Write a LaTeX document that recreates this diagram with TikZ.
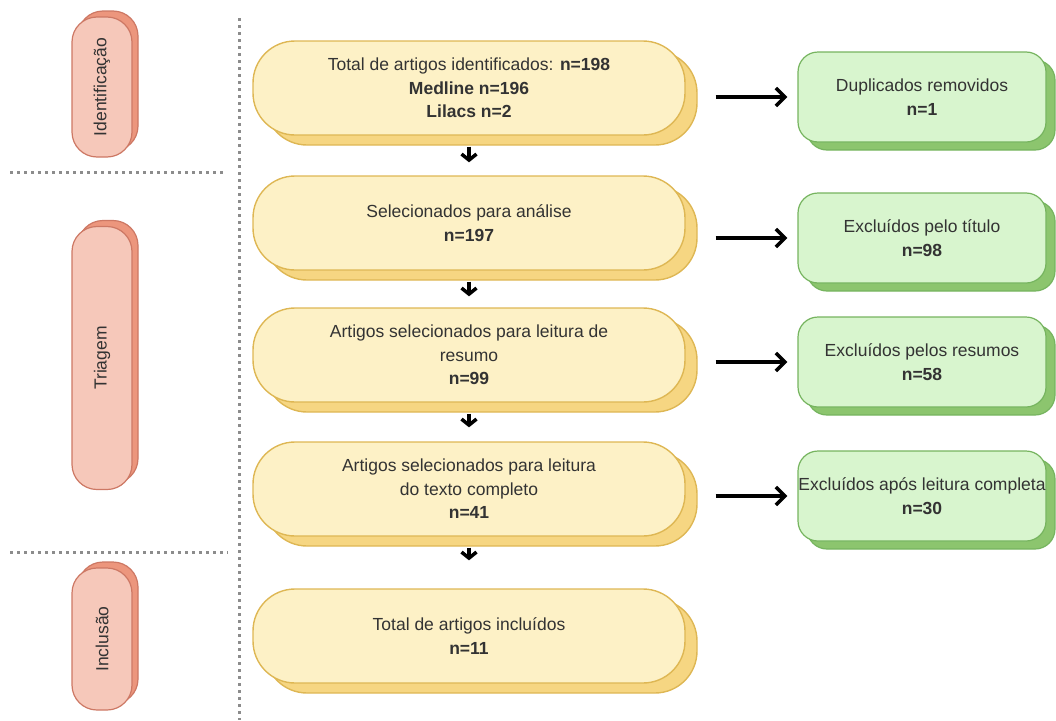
\documentclass[tikz,border=0pt]{standalone}
\usepackage{fontspec}
\setmainfont{Liberation Sans}
\usetikzlibrary{shadows,arrows.meta}

\definecolor{amarelo}{RGB}{253,241,198}
\definecolor{amareloborda}{RGB}{222,183,84}
\definecolor{amarelofundo}{RGB}{246,214,130}
\definecolor{verde}{RGB}{216,245,206}
\definecolor{verdeborda}{RGB}{118,180,95}
\definecolor{verdefundo}{RGB}{140,197,110}
\definecolor{rosa}{RGB}{246,200,186}
\definecolor{rosaborda}{RGB}{205,120,100}
\definecolor{rosafundo}{RGB}{236,150,125}
\definecolor{cinza}{RGB}{51,51,51}
\definecolor{pontos}{RGB}{140,140,140}

\tikzset{
  etapa/.style={draw=rosaborda, fill=rosa, line width=1.2pt, rounded corners=25pt,
    minimum width=60pt, inner sep=0pt, text=cinza, font=\fontsize{17.5}{23.5}\selectfont,
    copy shadow={shadow xshift=6pt, shadow yshift=6pt, fill=rosafundo, draw=rosaborda}},
  caixa/.style={draw=amareloborda, fill=amarelo, line width=1.4pt, rounded corners=42pt,
    minimum width=432pt, minimum height=94pt, inner sep=0pt, align=center, text=cinza,
    font=\fontsize{17.5}{23.5}\selectfont,
    copy shadow={shadow xshift=12pt, shadow yshift=-10pt, fill=amarelofundo, draw=amareloborda}},
  exclui/.style={draw=verdeborda, fill=verde, line width=1.2pt, rounded corners=20pt,
    minimum width=248pt, minimum height=90pt, inner sep=0pt, align=center, text=cinza,
    font=\fontsize{17.5}{23.5}\selectfont,
    copy shadow={shadow xshift=9pt, shadow yshift=-8pt, fill=verdefundo, draw=verdeborda}},
  seta/.style={line width=3.5pt, -{Straight Barb[length=9pt,width=18pt]},
    shorten <=30pt, shorten >=10pt},
  setabaixo/.style={line width=3.5pt, -{Straight Barb[length=6pt,width=15pt]}, shorten <=11pt},
  divisa/.style={pontos, line width=3pt, dash pattern=on 3pt off 4pt}
}

\begin{document}
\begin{tikzpicture}[x=1pt,y=-1pt]
\useasboundingbox (0,0) rectangle (1056,720);

% linhas pontilhadas
\draw[divisa] (239,18) -- (239,720);
\draw[divisa] (10,172) -- (224,172);
\draw[divisa] (10,552) -- (228,552);

% etapas
\node[etapa, minimum height=140pt] (ident) at (102,87) {\rotatebox{90}{Identificação}};
\node[etapa, minimum height=263pt] (triagem) at (102,358) {\rotatebox{90}{Triagem}};
\node[etapa, minimum height=142pt] (inclusao) at (102,639) {\rotatebox{90}{Inclusão}};

% caixas principais
\node[caixa] (total) at (469,88) {Total de artigos identificados: \textbf{n=198}\\ \textbf{Medline n=196}\\ \textbf{Lilacs n=2}};
\node[caixa] (selec) at (469,223) {Selecionados para análise\\ \textbf{n=197}};
\node[caixa] (resumo) at (469,355) {Artigos selecionados para leitura de\\ resumo\\ \textbf{n=99}};
\node[caixa] (texto) at (469,489) {Artigos selecionados para leitura\\ do texto completo\\ \textbf{n=41}};
\node[caixa] (incl) at (469,636) {Total de artigos incluídos\\ \textbf{n=11}};

% exclusoes
\node[exclui] (dup) at (922,97) {Duplicados removidos\\ \textbf{n=1}};
\node[exclui] (extit) at (922,238) {Excluídos pelo título\\ \textbf{n=98}};
\node[exclui] (exres) at (922,362) {Excluídos pelos resumos\\ \textbf{n=58}};
\node[exclui] (excomp) at (922,496) {Excluídos após leitura completa\\ \textbf{n=30}};

% setas
\foreach \a/\b/\s in {total/selec/13, selec/resumo/11, resumo/texto/14, texto/incl/28}
  \draw[setabaixo, shorten >=\s pt] (\a) -- (\b);
\foreach \a/\b in {total/dup, selec/extit, resumo/exres, texto/excomp}
  \draw[seta] (\a.east |- \b.west) -- (\b.west);
\end{tikzpicture}
\end{document}
